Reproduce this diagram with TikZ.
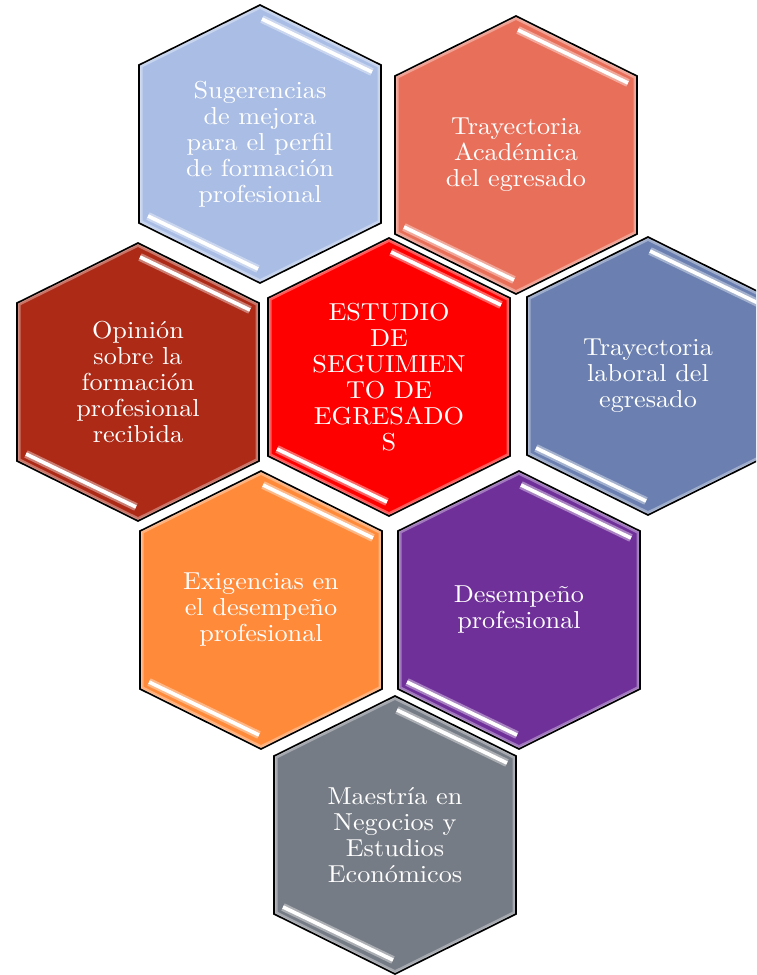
\documentclass[tikz,border=0pt]{standalone}
\usepackage{fontspec}
\newfontfamily\hexfont{lmroman10-regular.otf}[FakeStretch=1.07]
\definecolor{cSug}{RGB}{169,189,229}
\definecolor{cAcad}{RGB}{232,112,90}
\definecolor{cEst}{RGB}{255,0,0}
\definecolor{cOpin}{RGB}{173,42,23}
\definecolor{cLab}{RGB}{107,128,176}
\definecolor{cExig}{RGB}{255,138,58}
\definecolor{cDes}{RGB}{112,48,154}
\definecolor{cMae}{RGB}{118,124,133}
\tikzset{
  x=1pt,y=-1pt,
  hexborder/.style={draw=black,line width=1.6pt,line join=miter},
  hextext/.style={text=white,align=center,font=\hexfont\fontsize{24.5}{26}\selectfont,inner sep=0pt},
  barglow/.style={line width=8pt,line cap=butt,opacity=0.6},
  barcore/.style={white,line width=3.6pt,line cap=butt},
}
\newcommand\hexpath{(0,-139) -- (121,-79) -- (121,79) -- (0,139) -- (-121,79) -- (-121,-79) -- cycle}
\newcommand\hexcell[5]{%
  \begin{scope}[shift={(#2,#3)}]
    \fill[#4] \hexpath;
    \begin{scope}
      \clip \hexpath;
      \draw[white,opacity=0.35,line width=7pt] \hexpath;
      \draw[white,opacity=0.25,line width=3pt] \hexpath;
    \end{scope}
    \draw[barglow,#4!35!white] (2,-125) -- (112,-72);
    \draw[barcore] (2,-125) -- (112,-72);
    \draw[barglow,#4!35!white] (-112,72) -- (-2,125);
    \draw[barcore] (-112,72) -- (-2,125);
    \draw[hexborder] \hexpath;
    \node[hextext] (#1) at (0,0) {#5};
  \end{scope}}
\begin{document}
\begin{tikzpicture}
\useasboundingbox (0,0) rectangle (756,975);
\clip (0,0) rectangle (756,975);
\hexcell{sug}{260}{144}{cSug}{Sugerencias\\de mejora\\para el perfil\\de formación\\profesional}
\hexcell{acad}{516}{155}{cAcad}{Trayectoria\\Académica\\del egresado}
\hexcell{opin}{138}{382}{cOpin}{Opinión\\sobre la\\formación\\profesional\\recibida}
\hexcell{estudio}{389}{377}{cEst}{ESTUDIO\\DE\\SEGUIMIEN\\TO DE\\EGRESADO\\S}
\hexcell{lab}{648}{376}{cLab}{Trayectoria\\laboral del\\egresado}
\hexcell{exig}{261}{610}{cExig}{Exigencias en\\el desempeño\\profesional}
\hexcell{desemp}{519}{610}{cDes}{Desempeño\\profesional}
\hexcell{maest}{395}{835}{cMae}{Maestría en\\Negocios y\\Estudios\\Económicos}
\end{tikzpicture}
\end{document}
